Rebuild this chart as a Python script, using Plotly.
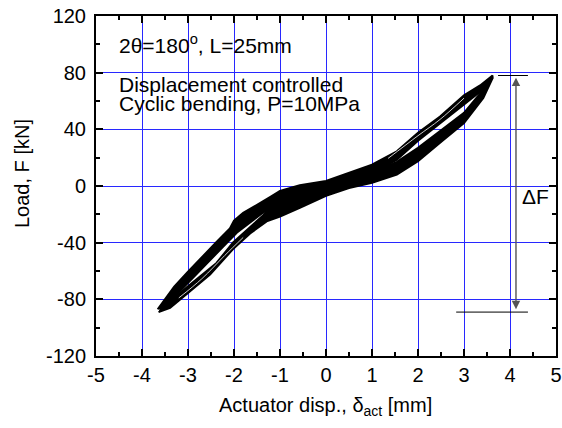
import plotly.graph_objects as go

# Upper branch band (negative tip -> positive tip along top edge)
upper_top_x = [-3.66, -3.5, -3.3, -3.0, -2.7, -2.38, -2.09, -2.0, -1.8, -1.5, -1.2, -1.0, -0.57, 0.0, 0.5, 1.0, 1.54, 2.0, 2.48, 3.0, 3.35, 3.62]
upper_top_y = [-87, -79.5, -71, -60.5, -50, -39.5, -30, -24.5, -19, -13.5, -7.5, -3.5, 0.5, 3.5, 9.5, 15, 24.5, 37.5, 49, 64, 71, 78]
# Upper branch band bottom edge (positive tip -> negative tip)
upper_bot_x = [3.62, 3.35, 3.0, 2.48, 2.0, 1.54, 1.0, 0.5, 0.0, -0.57, -1.0, -1.4, -1.7, -1.94, -2.27, -2.81, -3.0, -3.32, -3.6]
upper_bot_y = [76.5, 66.5, 57.5, 44, 32, 18.5, 8, 2, -2.5, -7, -11, -19.5, -27, -33, -44, -62, -69, -79, -87]

# Lower branch band top edge (negative tip -> positive tip)
lower_top_x = [-3.6, -3.39, -3.0, -2.52, -2.38, -2.02, -1.65, -1.37, -1.2, -1.0, -0.57, 0.0, 0.5, 1.0, 1.54, 2.0, 2.48, 3.0, 3.42, 3.62]
lower_top_y = [-85, -81.3, -70.8, -57.8, -54.3, -39.8, -28.8, -20.8, -15, -10, -6, -1.5, 3, 8.5, 17, 27, 38.8, 51.6, 68, 76.5]
# Lower branch band bottom edge (positive tip -> negative tip)
lower_bot_x = [3.62, 3.42, 3.0, 2.48, 2.0, 1.54, 1.0, 0.5, 0.0, -0.57, -1.0, -1.29, -1.65, -2.02, -2.52, -3.0, -3.39, -3.64]
lower_bot_y = [76, 62.2, 44.5, 30.5, 17.5, 8.1, 2.3, -1.5, -7, -15.4, -21.5, -25, -33.5, -44.5, -62.5, -75.5, -86, -89]

# thin light gaps between individual cycles
gap_pos_x = [1.35, 2.0, 2.48, 3.0]
gap_pos_y = [19.5, 35.5, 47, 62]
gap_neg_x = [-3.2, -2.7, -2.2, -1.8]
gap_neg_y = [-79, -65.5, -49, -36.3]

# Delta F markers
dF_top = 78
dF_bottom = -89
dF_x = 4.13

x_ticks = [-5, -4, -3, -2, -1, 0, 1, 2, 3, 4, 5]
y_ticks = [-120, -80, -40, 0, 40, 80, 120]
x_range = [-5, 5]
y_range = [-120, 120]

FONT = "Liberation Sans, Arial, sans-serif"
FS = 20
FS_TXT = 21

fig = go.Figure()

fig.add_trace(go.Scatter(
    x=upper_top_x + upper_bot_x, y=upper_top_y + upper_bot_y,
    mode="lines", fill="toself", fillcolor="black",
    line=dict(color="black", width=2), hoverinfo="skip", showlegend=False))
fig.add_trace(go.Scatter(
    x=lower_top_x + lower_bot_x, y=lower_top_y + lower_bot_y,
    mode="lines", fill="toself", fillcolor="black",
    line=dict(color="black", width=2), hoverinfo="skip", showlegend=False))
fig.add_trace(go.Scatter(x=gap_pos_x, y=gap_pos_y, mode="lines",
    line=dict(color="white", width=0.8, shape="spline"), hoverinfo="skip", showlegend=False))
fig.add_trace(go.Scatter(x=gap_neg_x, y=gap_neg_y, mode="lines",
    line=dict(color="white", width=0.8, shape="spline"), hoverinfo="skip", showlegend=False))

# reference lines for Delta F
fig.add_trace(go.Scatter(x=[3.74, 4.39], y=[dF_top, dF_top], mode="lines",
    line=dict(color="black", width=1), hoverinfo="skip", showlegend=False))
fig.add_trace(go.Scatter(x=[2.83, 4.39], y=[dF_bottom, dF_bottom], mode="lines",
    line=dict(color="black", width=1), hoverinfo="skip", showlegend=False))

# invisible trace so the mirrored (top / right) axes are drawn
fig.add_trace(go.Scatter(x=[x_range[0]], y=[y_range[0]], xaxis="x2", yaxis="y2",
    mode="markers", marker=dict(opacity=0), hoverinfo="skip", showlegend=False))

annotations = [
    dict(x=dF_x, y=dF_top - 1.5, ax=dF_x, ay=dF_bottom + 1, xref="x", yref="y",
         axref="x", ayref="y", showarrow=True, arrowhead=2, startarrowhead=2,
         arrowside="end+start", arrowsize=1.2, arrowwidth=1.4, arrowcolor="#555555", text=""),
    dict(x=4.22, y=-7.5, xref="x", yref="y", text="\u0394F", showarrow=False,
         xanchor="left", yanchor="middle", font=dict(family=FONT, size=FS_TXT, color="black")),
    dict(x=-4.55, y=100, xref="x", yref="y", text="2\u03b8=180<sup>o</sup>, L=25mm", showarrow=False,
         xanchor="left", yanchor="middle", font=dict(family=FONT, size=FS_TXT, color="black")),
    dict(x=-4.55, y=71.5, xref="x", yref="y", text="Displacement controlled", showarrow=False,
         xanchor="left", yanchor="middle", font=dict(family=FONT, size=FS_TXT, color="black")),
    dict(x=-4.55, y=58.3, xref="x", yref="y", text="Cyclic bending, P=10MPa", showarrow=False,
         xanchor="left", yanchor="middle", font=dict(family=FONT, size=FS_TXT, color="black")),
    dict(x=(325 - 96) / 460, y=(356 - 407) / 340, xref="paper", yref="paper",
         text="Actuator disp., \u03b4<sub>act</sub> [mm]", showarrow=False,
         xanchor="center", yanchor="middle", font=dict(family=FONT, size=FS, color="black")),
    dict(x=(22 - 96) / 460, y=(356 - 174) / 340, xref="paper", yref="paper",
         text="Load, F [kN]", showarrow=False, textangle=-90,
         xanchor="center", yanchor="middle", font=dict(family=FONT, size=FS, color="black")),
]

axis_common = dict(
    showline=True, linecolor="black", linewidth=2,
    ticks="inside", ticklen=7, tickwidth=1.5, tickcolor="black",
    zeroline=False, automargin=False, ticklabeloverflow="allow",
    tickfont=dict(family=FONT, size=FS, color="black"),
)

fig.update_layout(
    xaxis=dict(range=x_range, tickvals=x_ticks, ticktext=[str(v) for v in x_ticks],
               showgrid=True, gridcolor="rgb(40,40,255)", gridwidth=1,
               minor=dict(dtick=0.5, ticks="inside", ticklen=4, tickwidth=1.5,
                          tickcolor="black", showgrid=False),
               **axis_common),
    yaxis=dict(range=y_range, tickvals=y_ticks, ticktext=[str(v) for v in y_ticks],
               showgrid=True, gridcolor="rgb(40,40,255)", gridwidth=1,
               ticklabelstandoff=4,
               minor=dict(dtick=20, ticks="inside", ticklen=4, tickwidth=1.5,
                          tickcolor="black", showgrid=False),
               **axis_common),
    xaxis2=dict(range=x_range, tickvals=x_ticks, overlaying="x", side="top", anchor="y2",
                showticklabels=False, showgrid=False,
                minor=dict(dtick=0.5, ticks="inside", ticklen=4, tickwidth=1.5,
                           tickcolor="black", showgrid=False),
                **axis_common),
    yaxis2=dict(range=y_range, tickvals=y_ticks, overlaying="y", side="right", anchor="x2",
                showticklabels=False, showgrid=False,
                minor=dict(dtick=20, ticks="inside", ticklen=4, tickwidth=1.5,
                           tickcolor="black", showgrid=False),
                **axis_common),
    width=562, height=428,
    margin=dict(l=96, r=6, t=16, b=72, autoexpand=False),
    paper_bgcolor="white", plot_bgcolor="white",
    annotations=annotations,
    font=dict(family=FONT, size=FS, color="black"),
)

# remove the default page margin so the figure fills the 562x428 window exactly
fig.write_html("out.html", config={"displayModeBar": False},
               post_script="document.body.style.margin='0px';document.body.style.overflow='hidden';")
